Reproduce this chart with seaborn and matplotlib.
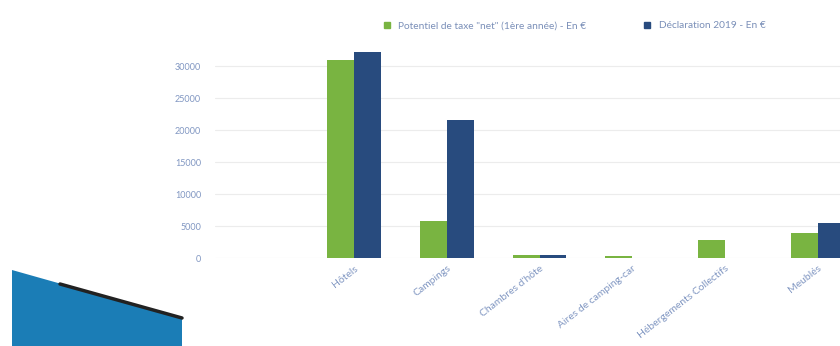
"""
Taxe de séjour: potentiel vs déclaration 2019, par type d'hébergement.
"""

import matplotlib.pyplot as plt
import pandas as pd
import seaborn as sns
from matplotlib.patches import Polygon


CATEGORIES = [
    "Hôtels",
    "Campings",
    "Chambres d'hôte",
    "Aires de camping-car",
    "Hébergements Collectifs",
    "Meublés",
]
POTENTIEL = [30900, 5800, 500, 300, 2800, 3900]
DECLARATION = [32300, 21600, 500, 0, 0, 5500]
SERIES = [
    'Potentiel de taxe "net" (1ère année) - En €',
    "Déclaration 2019 - En €",
]
Y_TICKS = [0, 5000, 10000, 15000, 20000, 25000, 30000]

GREEN = "#79b441"
BLUE = "#284b7e"
LABEL_COLOR = "#8197c2"


def build_dataframe() -> pd.DataFrame:
    rows = []
    for cat, pot, dec in zip(CATEGORIES, POTENTIEL, DECLARATION):
        rows.append({"Type": cat, "Série": SERIES[0], "Montant": pot})
        rows.append({"Type": cat, "Série": SERIES[1], "Montant": dec})
    return pd.DataFrame(rows)


def main() -> None:
    sns.set_style("white")
    plt.rcParams["font.family"] = ["Lato", "DejaVu Sans"]

    data = build_dataframe()

    fig = plt.figure(figsize=(8.4, 3.46), dpi=100)
    ax = fig.add_axes([0.256, 0.254, 0.744, 0.61])

    sns.barplot(
        data=data,
        x="Type",
        y="Montant",
        hue="Série",
        palette=[GREEN, BLUE],
        width=0.58,
        saturation=1,
        linewidth=0,
        ax=ax,
        legend=False,
    )

    ax.set_xlim(-1.5, 5.24)
    ax.set_ylim(0, 33000)
    ax.set_yticks(Y_TICKS)
    ax.set_yticklabels([str(t) for t in Y_TICKS])
    ax.yaxis.grid(True, color="#ececec", linewidth=0.8)
    ax.set_axisbelow(True)
    ax.set_xlabel("")
    ax.set_ylabel("")
    sns.despine(ax=ax, left=True, bottom=True)

    ax.tick_params(axis="y", length=0, pad=10, labelsize=6.5,
                   labelcolor=LABEL_COLOR)
    ax.tick_params(axis="x", length=0, pad=4, labelsize=7.5,
                   labelcolor=LABEL_COLOR)
    for label in ax.get_xticklabels():
        label.set_rotation(38)
        label.set_ha("right")
        label.set_rotation_mode("anchor")

    # legend at the top
    handles = [
        plt.Line2D([], [], marker="s", linestyle="", color=GREEN,
                   markersize=5),
        plt.Line2D([], [], marker="s", linestyle="", color=BLUE,
                   markersize=5),
    ]
    leg = fig.legend(
        handles,
        SERIES,
        loc="center",
        bbox_to_anchor=(0.68, 0.925),
        ncol=2,
        frameon=False,
        fontsize=7.3,
        handletextpad=0.1,
        columnspacing=5,
    )
    for text in leg.get_texts():
        text.set_color("#7a8fb8")

    # slide decoration in the lower left corner
    w, h = 840, 346
    wedge = Polygon(
        [(12 / w, 1 - 270 / h), (182 / w, 1 - 318 / h),
         (182 / w, 0), (12 / w, 0)],
        closed=True, transform=fig.transFigure,
        facecolor="#1b7db6", edgecolor="none",
    )
    fig.patches.append(wedge)
    fig.add_artist(plt.Line2D(
        [60 / w, 182 / w], [1 - 284 / h, 1 - 318 / h],
        transform=fig.transFigure, color="#222222", linewidth=2.5,
    ))

    fig.savefig("out.png", dpi=100)


if __name__ == "__main__":
    main()
